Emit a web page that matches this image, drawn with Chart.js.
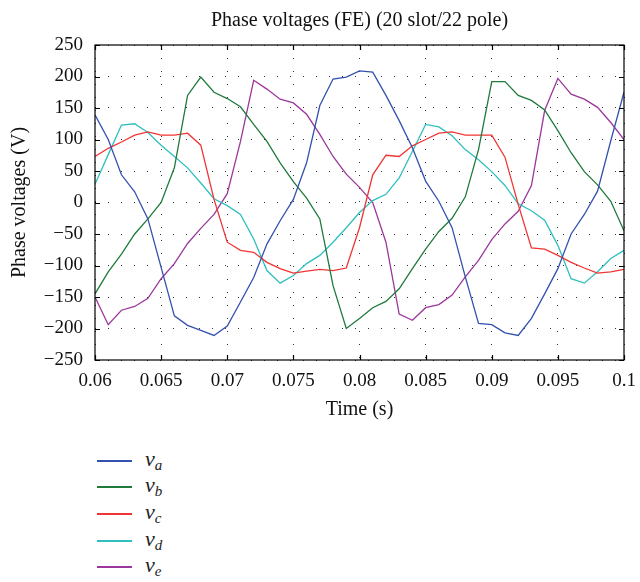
<!DOCTYPE html>
<html>
<head>
<meta charset="utf-8">
<script src="https://cdn.jsdelivr.net/npm/chart.js@4.4.1/dist/chart.umd.min.js"></script>
<style>
  html,body{margin:0;padding:0;background:#fff;}
  #wrap{position:relative;width:640px;height:582px;overflow:hidden;}
  #box{position:absolute;left:0;top:0;width:640px;height:430px;}
  .lg-row{position:absolute;left:0;height:0;}
  .lg-line{position:absolute;left:97px;width:35px;height:2px;top:-1px;}
  .lg-txt{position:absolute;left:145px;top:-15px;font:italic 22px "Liberation Serif",serif;color:#222;white-space:nowrap;}
  .lg-txt sub{font-size:15px;vertical-align:-4px;}
</style>
</head>
<body>
<div id="wrap">
  <div id="box"><canvas id="pv"></canvas></div>
  <div id="legend"></div>
</div>
<script>
// --- data (1 ms sampling) ---
const TIME=[0.060,0.061,0.062,0.063,0.064,0.065,0.066,0.067,0.068,0.069,
  0.070,0.071,0.072,0.073,0.074,0.075,0.076,0.077,0.078,0.079,
  0.080,0.081,0.082,0.083,0.084,0.085,0.086,0.087,0.088,0.089,
  0.090,0.091,0.092,0.093,0.094,0.095,0.096,0.097,0.098,0.099,0.100];
const VA=[139,100,44,17,-26,-103,-180,-195,-203,-211,-196,-158,-119,-66,-29,5,63,154,196,199,209,207,170,130,87,34,2,-40,-118,-192,-194,-207,-211,-184,-145,-105,-50,-19,18,98,175];
const VB=[-145,-110,-82,-50,-26,0,55,170,199,175,165,152,124,97,63,33,7,-26,-132,-200,-184,-167,-157,-137,-105,-74,-46,-25,9,84,192,192,170,162,147,114,79,49,28,2,-45];
const VC=[73,86,96,107,112,107,107,110,91,5,-63,-76,-79,-95,-105,-112,-109,-106,-108,-104,-40,44,75,73,90,100,110,112,107,107,107,72,-3,-72,-74,-84,-95,-104,-112,-110,-106];
const VD=[29,76,123,125,111,91,73,55,31,6,-5,-19,-58,-108,-128,-116,-97,-84,-63,-40,-16,3,13,39,81,124,120,106,84,68,49,27,-2,-13,-28,-68,-121,-128,-110,-89,-76];
const VE=[-150,-194,-171,-165,-152,-121,-97,-65,-41,-19,14,97,194,180,164,158,140,108,73,45,24,0,-63,-177,-187,-167,-162,-147,-118,-92,-59,-34,-14,27,146,197,172,164,151,127,100];
const SERIES=[
  {k:'a',data:VA,c:'#3352ad'},
  {k:'b',data:VB,c:'#1f7a3c'},
  {k:'c',data:VC,c:'#f03535'},
  {k:'d',data:VD,c:'#2fbfbf'},
  {k:'e',data:VE,c:'#9c379c'},
];
const X_MIN=0.06, X_MAX=0.1, X_STEP=0.005;
const Y_MIN=-250, Y_MAX=250, Y_STEP=50;

const FONT='"Liberation Serif", "DejaVu Serif", serif';
const fmtY=v=>v<0?'\u2212'+Math.abs(v):String(v);
const fmtX=v=>String(+v.toFixed(3));

// MATLAB-style box with inward ticks
const boxTicks={
  id:'boxTicks',
  afterDraw(chart){
    const {ctx,chartArea:a,scales:{x,y}}=chart;
    const L=5;
    ctx.save();
    ctx.strokeStyle='#000';ctx.lineWidth=1.2;
    ctx.strokeRect(a.left,a.top,a.right-a.left,a.bottom-a.top);
    ctx.beginPath();
    x.ticks.forEach(t=>{
      const px=Math.round(x.getPixelForValue(t.value))+0.5;
      ctx.moveTo(px,a.bottom);ctx.lineTo(px,a.bottom-L);
      ctx.moveTo(px,a.top);ctx.lineTo(px,a.top+L);
    });
    y.ticks.forEach(t=>{
      const py=Math.round(y.getPixelForValue(t.value))+0.5;
      ctx.moveTo(a.left,py);ctx.lineTo(a.left+L,py);
      ctx.moveTo(a.right,py);ctx.lineTo(a.right-L,py);
    });
    ctx.stroke();
    ctx.restore();
  }
};

new Chart(document.getElementById('pv'),{
  type:'line',
  data:{datasets:SERIES.map(s=>({
    label:'v'+s.k,
    data:TIME.map((t,i)=>({x:t,y:s.data[i]})),
    borderColor:s.c,borderWidth:1.3,pointRadius:0,tension:0,fill:false
  }))},
  options:{
    responsive:true,maintainAspectRatio:false,animation:false,
    layout:{padding:{left:0,right:16,top:0,bottom:0}},
    plugins:{
      legend:{display:false},tooltip:{enabled:false},
      title:{display:true,fullSize:false,text:'Phase voltages (FE) (20 slot/22 pole)',color:'#111',
        font:{family:FONT,size:20,weight:'normal'},padding:{top:9,bottom:12}}
    },
    scales:{
      x:{type:'linear',min:X_MIN,max:X_MAX,
        afterFit:s=>{s.height=70;s.paddingRight=0;},
        afterBuildTicks:s=>{const t=[];for(let v=X_MIN;v<=X_MAX+1e-9;v+=X_STEP)t.push({value:+v.toFixed(3)});s.ticks=t;},
        ticks:{color:'#111',font:{family:FONT,size:19},padding:9.6,maxRotation:0,callback:fmtX},
        grid:{color:'rgba(0,0,0,0.8)',lineWidth:1,drawTicks:false},
        border:{display:false,dash:[1,12]},
        title:{display:true,text:'Time (s)',color:'#111',font:{family:FONT,size:20},padding:{top:0,bottom:8}}},
      y:{min:Y_MIN,max:Y_MAX,
        afterFit:s=>{s.width=95;},
        ticks:{stepSize:Y_STEP,color:'#111',font:{family:FONT,size:19},padding:12,callback:fmtY},
        grid:{color:'rgba(0,0,0,0.8)',lineWidth:1,drawTicks:false},
        border:{display:false,dash:[1,12]},
        title:{display:true,text:'Phase voltages (V)',color:'#111',font:{family:FONT,size:20},padding:{top:8,bottom:0}}}
    }
  },
  plugins:[boxTicks]
});

// legend below the plot, with subscripts
const ROW_Y=[461,487,514,541,567];
document.getElementById('legend').innerHTML=SERIES.map((s,i)=>`
  <div class="lg-row" style="top:${ROW_Y[i]}px">
    <div class="lg-line" style="background:${s.c}"></div>
    <span class="lg-txt">v<sub>${s.k}</sub></span>
  </div>`).join('');
</script>
</body>
</html>
